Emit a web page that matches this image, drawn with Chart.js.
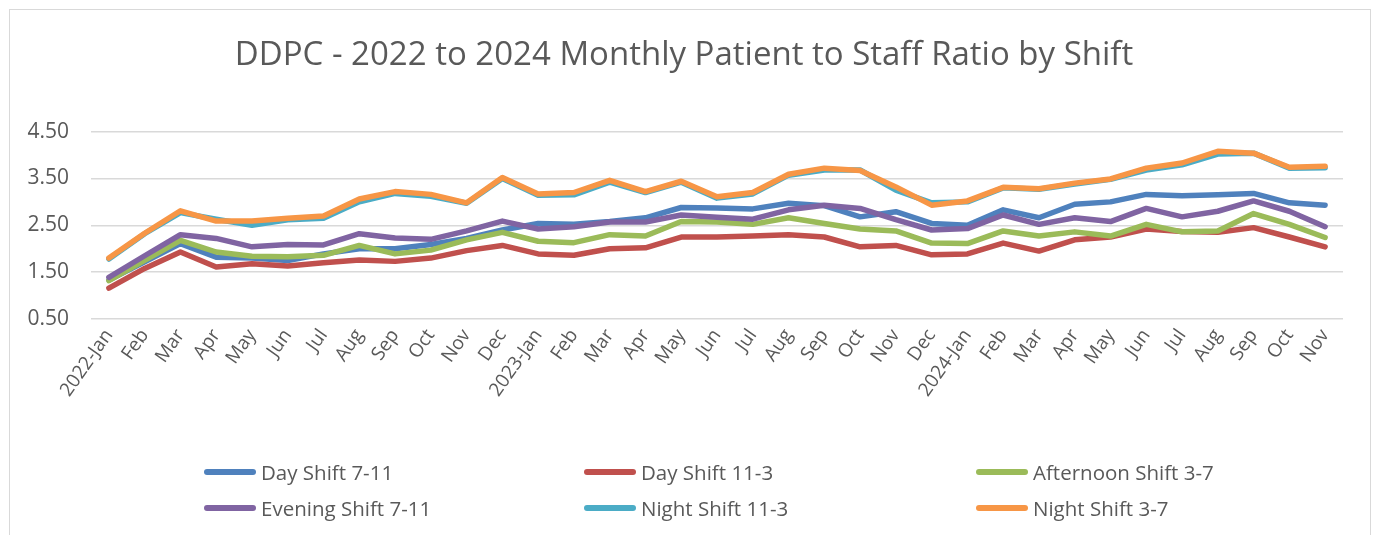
<!DOCTYPE html>
<html>
<head>
<meta charset="utf-8">
<script src="https://cdn.jsdelivr.net/npm/chart.js@4"></script>
<style>
  html, body { margin: 0; padding: 0; background: #fff; }
  #frame {
    position: absolute; left: 9px; top: 9px;
    width: 1362px; height: 540px;
    border: 1px solid #d9d9d9; box-sizing: border-box;
  }
  #wrap { position: absolute; left: 0; top: 0; width: 1360px; height: 526px; }
  #legend {
    position: absolute; left: 194px; top: 444px;
    display: grid; grid-template-columns: 380px 392px auto;
    grid-auto-rows: 36px;
    font-family: "Open Sans", sans-serif; font-size: 20.5px; color: #595959;
  }
  .item { display: flex; align-items: center; }
  .swatch { width: 52px; height: 6px; border-radius: 3px; margin-right: 5px; }
</style>
</head>
<body>
<div id="frame">
  <div id="wrap"><canvas id="ratioChart"></canvas></div>
  <div id="legend"></div>
</div>
<script>
const labels = [
  '2022-Jan','Feb','Mar','Apr','May','Jun','Jul','Aug','Sep','Oct','Nov','Dec',
  '2023-Jan','Feb','Mar','Apr','May','Jun','Jul','Aug','Sep','Oct','Nov','Dec',
  '2024-Jan','Feb','Mar','Apr','May','Jun','Jul','Aug','Sep','Oct','Nov'
];

const dayShift711 = [1.33, 1.72, 2.11, 1.82, 1.80, 1.75, 1.89, 2.00, 2.00, 2.09, 2.22, 2.40,
  2.54, 2.52, 2.58, 2.66, 2.88, 2.87, 2.85, 2.97, 2.92, 2.68, 2.79, 2.54,
  2.50, 2.83, 2.66, 2.95, 3.00, 3.16, 3.13, 3.15, 3.18, 2.98, 2.93];
const dayShift113 = [1.16, 1.58, 1.93, 1.61, 1.68, 1.63, 1.70, 1.76, 1.73, 1.80, 1.96, 2.07,
  1.89, 1.86, 2.00, 2.02, 2.25, 2.25, 2.27, 2.30, 2.25, 2.04, 2.07, 1.87,
  1.89, 2.12, 1.95, 2.19, 2.25, 2.42, 2.37, 2.35, 2.45, 2.25, 2.04];
const afternoon37 = [1.32, 1.75, 2.18, 1.93, 1.84, 1.83, 1.86, 2.07, 1.89, 1.97, 2.19, 2.35,
  2.16, 2.13, 2.30, 2.27, 2.58, 2.57, 2.52, 2.66, 2.54, 2.42, 2.38, 2.12,
  2.11, 2.38, 2.27, 2.36, 2.27, 2.52, 2.36, 2.38, 2.75, 2.52, 2.24];
const evening711 = [1.39, 1.85, 2.30, 2.22, 2.04, 2.09, 2.08, 2.32, 2.23, 2.20, 2.38, 2.59,
  2.42, 2.47, 2.57, 2.57, 2.72, 2.67, 2.63, 2.83, 2.93, 2.86, 2.62, 2.40,
  2.43, 2.72, 2.52, 2.66, 2.58, 2.86, 2.68, 2.80, 3.02, 2.80, 2.47];
const night113 = [1.78, 2.32, 2.77, 2.63, 2.50, 2.62, 2.65, 3.00, 3.18, 3.12, 2.97, 3.50,
  3.14, 3.15, 3.42, 3.20, 3.42, 3.08, 3.17, 3.57, 3.68, 3.68, 3.25, 2.98,
  3.00, 3.30, 3.27, 3.38, 3.48, 3.68, 3.79, 4.02, 4.04, 3.72, 3.73];
const night37 = [1.80, 2.33, 2.81, 2.59, 2.59, 2.65, 2.70, 3.06, 3.22, 3.16, 2.98, 3.52,
  3.17, 3.20, 3.46, 3.22, 3.44, 3.11, 3.20, 3.59, 3.72, 3.67, 3.32, 2.93,
  3.02, 3.31, 3.28, 3.40, 3.49, 3.72, 3.83, 4.08, 4.04, 3.74, 3.76];

const seriesNames = ['Day Shift 7-11', 'Day Shift 11-3', 'Afternoon Shift 3-7',
  'Evening Shift 7-11', 'Night Shift 11-3', 'Night Shift 3-7'];
const seriesValues = [dayShift711, dayShift113, afternoon37, evening711, night113, night37];
const seriesColors = ['#4f81bd', '#c0504d', '#9bbb59', '#8064a2', '#4bacc6', '#f79646'];

const ratioData = {
  labels: labels,
  datasets: seriesNames.map((name, i) => ({
    label: name,
    data: seriesValues[i],
    borderColor: seriesColors[i],
    backgroundColor: seriesColors[i],
    borderWidth: 5.5,
    pointRadius: 0,
    tension: 0,
    borderCapStyle: 'round',
    borderJoinStyle: 'round',
    order: seriesNames.length - i  // later series drawn on top, like Excel
  }))
};

const ratioConfig = {
  type: 'line',
  data: ratioData,
  options: {
    responsive: true,
    maintainAspectRatio: false,
    animation: false,
    layout: { padding: { left: 15, right: 27, top: 0, bottom: 92 } },
    plugins: {
      legend: { display: false },
      tooltip: { enabled: false },
      title: {
        display: true,
        text: 'DDPC - 2022 to 2024 Monthly Patient to Staff Ratio by Shift',
        color: '#595959',
        font: { family: 'Open Sans', size: 33, weight: 'normal' },
        padding: { top: 26, bottom: 56 }
      }
    },
    scales: {
      x: {
        offset: true,
        grid: { display: false, drawTicks: false },
        border: { display: false },
        ticks: {
          color: '#595959',
          font: { family: 'Open Sans', size: 19 },
          minRotation: 55,
          maxRotation: 55,
          autoSkip: false,
          padding: 6
        },
        afterFit: (scale) => { scale.height = 125; }
      },
      y: {
        min: 0.5,
        max: 4.5,
        grid: { color: '#d9d9d9', lineWidth: 1.5, drawTicks: false },
        border: { display: false },
        ticks: {
          stepSize: 1,
          color: '#595959',
          font: { family: 'Open Sans', size: 21 },
          padding: 22,
          callback: (v) => Number(v).toFixed(2)
        },
        afterFit: (scale) => { scale.width = 66; }
      }
    }
  }
};

var ratioChart = new Chart(document.getElementById('ratioChart'), ratioConfig);

// legend in Excel-style grid, built from the chart's datasets
const legendBox = document.getElementById('legend');
ratioChart.data.datasets.forEach((ds) => {
  const item = document.createElement('div');
  item.className = 'item';
  const sw = document.createElement('span');
  sw.className = 'swatch';
  sw.style.background = ds.borderColor;
  const txt = document.createElement('span');
  txt.textContent = ds.label;
  item.appendChild(sw);
  item.appendChild(txt);
  legendBox.appendChild(item);
});
</script>
</body>
</html>
